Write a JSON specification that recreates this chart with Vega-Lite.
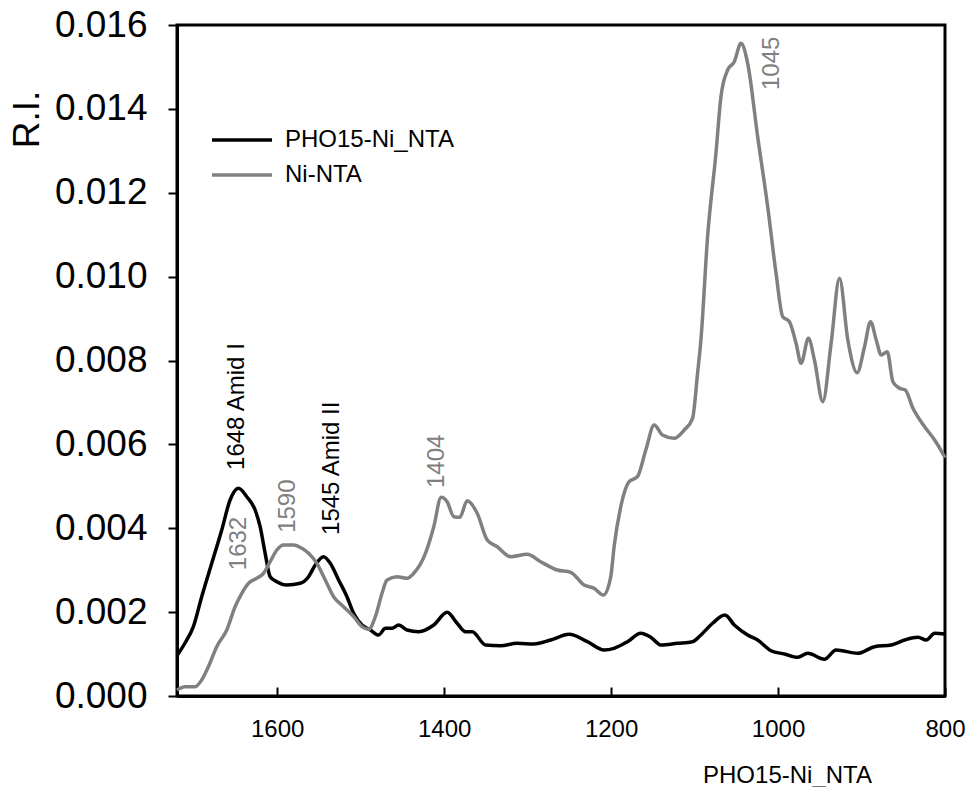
{
  "$schema": "https://vega.github.io/schema/vega-lite/v6.json",
  "width": 768,
  "height": 671,
  "autosize": {"type": "none"},
  "padding": {"left": 177, "top": 25, "right": 25, "bottom": 91},
  "background": "white",
  "config": {
    "view": {"stroke": "#000000", "strokeWidth": 3},
    "font": "Liberation Sans",
    "axis": {
      "grid": false,
      "domainColor": "#000000",
      "domainWidth": 3,
      "tickColor": "#000000",
      "tickWidth": 2,
      "labelColor": "#000000",
      "titleColor": "#000000",
      "labelFont": "Liberation Sans",
      "titleFont": "Liberation Sans",
      "titleFontWeight": "normal"
    }
  },
  "datasets": {
    "spectra": [
      {"series": "PHO15-Ni_NTA", "wn": 1720, "ri": 0.00096},
      {"series": "PHO15-Ni_NTA", "wn": 1710.4, "ri": 0.001264},
      {"series": "PHO15-Ni_NTA", "wn": 1700.4, "ri": 0.001653},
      {"series": "PHO15-Ni_NTA", "wn": 1690.4, "ri": 0.002368},
      {"series": "PHO15-Ni_NTA", "wn": 1678.4, "ri": 0.003164},
      {"series": "PHO15-Ni_NTA", "wn": 1666.4, "ri": 0.003958},
      {"series": "PHO15-Ni_NTA", "wn": 1656.4, "ri": 0.004674},
      {"series": "PHO15-Ni_NTA", "wn": 1646.4, "ri": 0.004953},
      {"series": "PHO15-Ni_NTA", "wn": 1636.4, "ri": 0.004752},
      {"series": "PHO15-Ni_NTA", "wn": 1626.4, "ri": 0.004435},
      {"series": "PHO15-Ni_NTA", "wn": 1620.4, "ri": 0.004037},
      {"series": "PHO15-Ni_NTA", "wn": 1614.4, "ri": 0.003403},
      {"series": "PHO15-Ni_NTA", "wn": 1608.4, "ri": 0.002845},
      {"series": "PHO15-Ni_NTA", "wn": 1600.4, "ri": 0.002725},
      {"series": "PHO15-Ni_NTA", "wn": 1588.4, "ri": 0.002647},
      {"series": "PHO15-Ni_NTA", "wn": 1572.4, "ri": 0.002687},
      {"series": "PHO15-Ni_NTA", "wn": 1562.4, "ri": 0.002845},
      {"series": "PHO15-Ni_NTA", "wn": 1554.4, "ri": 0.003124},
      {"series": "PHO15-Ni_NTA", "wn": 1544.4, "ri": 0.003322},
      {"series": "PHO15-Ni_NTA", "wn": 1536.4, "ri": 0.003164},
      {"series": "PHO15-Ni_NTA", "wn": 1526.4, "ri": 0.002766},
      {"series": "PHO15-Ni_NTA", "wn": 1516.4, "ri": 0.002368},
      {"series": "PHO15-Ni_NTA", "wn": 1508.4, "ri": 0.001972},
      {"series": "PHO15-Ni_NTA", "wn": 1498.4, "ri": 0.001693},
      {"series": "PHO15-Ni_NTA", "wn": 1488.4, "ri": 0.001574},
      {"series": "PHO15-Ni_NTA", "wn": 1478.4, "ri": 0.001455},
      {"series": "PHO15-Ni_NTA", "wn": 1470.4, "ri": 0.001614},
      {"series": "PHO15-Ni_NTA", "wn": 1462.4, "ri": 0.001614},
      {"series": "PHO15-Ni_NTA", "wn": 1454.4, "ri": 0.001693},
      {"series": "PHO15-Ni_NTA", "wn": 1444.4, "ri": 0.001574},
      {"series": "PHO15-Ni_NTA", "wn": 1430.4, "ri": 0.001533},
      {"series": "PHO15-Ni_NTA", "wn": 1412.4, "ri": 0.001693},
      {"series": "PHO15-Ni_NTA", "wn": 1396.4, "ri": 0.001996},
      {"series": "PHO15-Ni_NTA", "wn": 1384.4, "ri": 0.001734},
      {"series": "PHO15-Ni_NTA", "wn": 1374.4, "ri": 0.001533},
      {"series": "PHO15-Ni_NTA", "wn": 1366.4, "ri": 0.001533},
      {"series": "PHO15-Ni_NTA", "wn": 1350.4, "ri": 0.001216},
      {"series": "PHO15-Ni_NTA", "wn": 1332.4, "ri": 0.001199},
      {"series": "PHO15-Ni_NTA", "wn": 1312.4, "ri": 0.001257},
      {"series": "PHO15-Ni_NTA", "wn": 1292.4, "ri": 0.00124},
      {"series": "PHO15-Ni_NTA", "wn": 1272.4, "ri": 0.001335},
      {"series": "PHO15-Ni_NTA", "wn": 1250.4, "ri": 0.001471},
      {"series": "PHO15-Ni_NTA", "wn": 1228.4, "ri": 0.001295},
      {"series": "PHO15-Ni_NTA", "wn": 1208.4, "ri": 0.001097},
      {"series": "PHO15-Ni_NTA", "wn": 1196.4, "ri": 0.001137},
      {"series": "PHO15-Ni_NTA", "wn": 1180.4, "ri": 0.001295},
      {"series": "PHO15-Ni_NTA", "wn": 1164.4, "ri": 0.001495},
      {"series": "PHO15-Ni_NTA", "wn": 1152.4, "ri": 0.0014},
      {"series": "PHO15-Ni_NTA", "wn": 1140.4, "ri": 0.001216},
      {"series": "PHO15-Ni_NTA", "wn": 1120.4, "ri": 0.001257},
      {"series": "PHO15-Ni_NTA", "wn": 1102.4, "ri": 0.001295},
      {"series": "PHO15-Ni_NTA", "wn": 1092.4, "ri": 0.001455},
      {"series": "PHO15-Ni_NTA", "wn": 1078.4, "ri": 0.001734},
      {"series": "PHO15-Ni_NTA", "wn": 1063.6, "ri": 0.001931},
      {"series": "PHO15-Ni_NTA", "wn": 1052.4, "ri": 0.001693},
      {"series": "PHO15-Ni_NTA", "wn": 1036.4, "ri": 0.001455},
      {"series": "PHO15-Ni_NTA", "wn": 1024.4, "ri": 0.001335},
      {"series": "PHO15-Ni_NTA", "wn": 1008.4, "ri": 0.00108},
      {"series": "PHO15-Ni_NTA", "wn": 992.4, "ri": 0.001002},
      {"series": "PHO15-Ni_NTA", "wn": 976.4, "ri": 0.000923},
      {"series": "PHO15-Ni_NTA", "wn": 964.4, "ri": 0.001018},
      {"series": "PHO15-Ni_NTA", "wn": 944.4, "ri": 0.000875},
      {"series": "PHO15-Ni_NTA", "wn": 930.4, "ri": 0.001097},
      {"series": "PHO15-Ni_NTA", "wn": 904.4, "ri": 0.001018},
      {"series": "PHO15-Ni_NTA", "wn": 884.4, "ri": 0.001176},
      {"series": "PHO15-Ni_NTA", "wn": 864.4, "ri": 0.001216},
      {"series": "PHO15-Ni_NTA", "wn": 848.4, "ri": 0.001335},
      {"series": "PHO15-Ni_NTA", "wn": 832.4, "ri": 0.0014},
      {"series": "PHO15-Ni_NTA", "wn": 822.4, "ri": 0.001335},
      {"series": "PHO15-Ni_NTA", "wn": 812.4, "ri": 0.001495},
      {"series": "PHO15-Ni_NTA", "wn": 800, "ri": 0.001478},
      {"series": "Ni-NTA", "wn": 1720, "ri": 0.00014},
      {"series": "Ni-NTA", "wn": 1710.4, "ri": 0.000222},
      {"series": "Ni-NTA", "wn": 1698.4, "ri": 0.000222},
      {"series": "Ni-NTA", "wn": 1690.4, "ri": 0.000382},
      {"series": "Ni-NTA", "wn": 1682.4, "ri": 0.000699},
      {"series": "Ni-NTA", "wn": 1672.4, "ri": 0.001176},
      {"series": "Ni-NTA", "wn": 1660.4, "ri": 0.001574},
      {"series": "Ni-NTA", "wn": 1650.4, "ri": 0.002129},
      {"series": "Ni-NTA", "wn": 1642.4, "ri": 0.002449},
      {"series": "Ni-NTA", "wn": 1634.4, "ri": 0.002687},
      {"series": "Ni-NTA", "wn": 1624.4, "ri": 0.002807},
      {"series": "Ni-NTA", "wn": 1616.4, "ri": 0.002926},
      {"series": "Ni-NTA", "wn": 1608.4, "ri": 0.003202},
      {"series": "Ni-NTA", "wn": 1600.4, "ri": 0.003481},
      {"series": "Ni-NTA", "wn": 1592.4, "ri": 0.003601},
      {"series": "Ni-NTA", "wn": 1580.4, "ri": 0.003601},
      {"series": "Ni-NTA", "wn": 1570.4, "ri": 0.003522},
      {"series": "Ni-NTA", "wn": 1562.4, "ri": 0.003403},
      {"series": "Ni-NTA", "wn": 1552.4, "ri": 0.003164},
      {"series": "Ni-NTA", "wn": 1542.4, "ri": 0.002766},
      {"series": "Ni-NTA", "wn": 1532.4, "ri": 0.002368},
      {"series": "Ni-NTA", "wn": 1520.4, "ri": 0.002129},
      {"series": "Ni-NTA", "wn": 1508.4, "ri": 0.001891},
      {"series": "Ni-NTA", "wn": 1498.4, "ri": 0.001653},
      {"series": "Ni-NTA", "wn": 1490.4, "ri": 0.00159},
      {"series": "Ni-NTA", "wn": 1482.4, "ri": 0.001891},
      {"series": "Ni-NTA", "wn": 1474.4, "ri": 0.002449},
      {"series": "Ni-NTA", "wn": 1468.4, "ri": 0.002766},
      {"series": "Ni-NTA", "wn": 1456.4, "ri": 0.002845},
      {"series": "Ni-NTA", "wn": 1444.4, "ri": 0.002807},
      {"series": "Ni-NTA", "wn": 1436.4, "ri": 0.002926},
      {"series": "Ni-NTA", "wn": 1422.4, "ri": 0.003403},
      {"series": "Ni-NTA", "wn": 1412.4, "ri": 0.004037},
      {"series": "Ni-NTA", "wn": 1403.6, "ri": 0.004738},
      {"series": "Ni-NTA", "wn": 1396.4, "ri": 0.004633},
      {"series": "Ni-NTA", "wn": 1388.4, "ri": 0.004275},
      {"series": "Ni-NTA", "wn": 1381.2, "ri": 0.004261},
      {"series": "Ni-NTA", "wn": 1372.4, "ri": 0.004657},
      {"series": "Ni-NTA", "wn": 1360.4, "ri": 0.004357},
      {"series": "Ni-NTA", "wn": 1348.4, "ri": 0.00372},
      {"series": "Ni-NTA", "wn": 1336.4, "ri": 0.00356},
      {"series": "Ni-NTA", "wn": 1320.4, "ri": 0.003322},
      {"series": "Ni-NTA", "wn": 1300.4, "ri": 0.003379},
      {"series": "Ni-NTA", "wn": 1284.4, "ri": 0.003202},
      {"series": "Ni-NTA", "wn": 1264.4, "ri": 0.003004},
      {"series": "Ni-NTA", "wn": 1248.4, "ri": 0.00295},
      {"series": "Ni-NTA", "wn": 1232.4, "ri": 0.002647},
      {"series": "Ni-NTA", "wn": 1220.4, "ri": 0.002568},
      {"series": "Ni-NTA", "wn": 1209.2, "ri": 0.002408},
      {"series": "Ni-NTA", "wn": 1200.4, "ri": 0.002845},
      {"series": "Ni-NTA", "wn": 1196.4, "ri": 0.00356},
      {"series": "Ni-NTA", "wn": 1188.4, "ri": 0.004514},
      {"series": "Ni-NTA", "wn": 1178.4, "ri": 0.00511},
      {"series": "Ni-NTA", "wn": 1168.4, "ri": 0.005229},
      {"series": "Ni-NTA", "wn": 1158.4, "ri": 0.005866},
      {"series": "Ni-NTA", "wn": 1148.4, "ri": 0.006462},
      {"series": "Ni-NTA", "wn": 1138.4, "ri": 0.006224},
      {"series": "Ni-NTA", "wn": 1124.4, "ri": 0.006145},
      {"series": "Ni-NTA", "wn": 1112.4, "ri": 0.006343},
      {"series": "Ni-NTA", "wn": 1102.4, "ri": 0.006622},
      {"series": "Ni-NTA", "wn": 1096.4, "ri": 0.007695},
      {"series": "Ni-NTA", "wn": 1092.4, "ri": 0.008489},
      {"series": "Ni-NTA", "wn": 1084.4, "ri": 0.010952},
      {"series": "Ni-NTA", "wn": 1074.4, "ri": 0.012941},
      {"series": "Ni-NTA", "wn": 1068.4, "ri": 0.01429},
      {"series": "Ni-NTA", "wn": 1060.4, "ri": 0.014927},
      {"series": "Ni-NTA", "wn": 1052.4, "ri": 0.015125},
      {"series": "Ni-NTA", "wn": 1044.4, "ri": 0.015564},
      {"series": "Ni-NTA", "wn": 1036.4, "ri": 0.015087},
      {"series": "Ni-NTA", "wn": 1024.4, "ri": 0.013337},
      {"series": "Ni-NTA", "wn": 1012.4, "ri": 0.011668},
      {"series": "Ni-NTA", "wn": 1002.4, "ri": 0.010079},
      {"series": "Ni-NTA", "wn": 994.4, "ri": 0.009045},
      {"series": "Ni-NTA", "wn": 986.4, "ri": 0.008925},
      {"series": "Ni-NTA", "wn": 978.4, "ri": 0.00841},
      {"series": "Ni-NTA", "wn": 972.4, "ri": 0.007933},
      {"series": "Ni-NTA", "wn": 963.6, "ri": 0.00853},
      {"series": "Ni-NTA", "wn": 956.4, "ri": 0.008012},
      {"series": "Ni-NTA", "wn": 946.4, "ri": 0.007018},
      {"series": "Ni-NTA", "wn": 936.4, "ri": 0.00841},
      {"series": "Ni-NTA", "wn": 926.4, "ri": 0.00996},
      {"series": "Ni-NTA", "wn": 916.4, "ri": 0.008489},
      {"series": "Ni-NTA", "wn": 905.2, "ri": 0.007709},
      {"series": "Ni-NTA", "wn": 896.4, "ri": 0.008329},
      {"series": "Ni-NTA", "wn": 889.2, "ri": 0.008925},
      {"series": "Ni-NTA", "wn": 882.4, "ri": 0.008489},
      {"series": "Ni-NTA", "wn": 876.4, "ri": 0.008131},
      {"series": "Ni-NTA", "wn": 869.2, "ri": 0.00821},
      {"series": "Ni-NTA", "wn": 862.4, "ri": 0.007495},
      {"series": "Ni-NTA", "wn": 854.4, "ri": 0.007337},
      {"series": "Ni-NTA", "wn": 847.6, "ri": 0.007297},
      {"series": "Ni-NTA", "wn": 838.4, "ri": 0.00686},
      {"series": "Ni-NTA", "wn": 824.4, "ri": 0.006422},
      {"series": "Ni-NTA", "wn": 812.4, "ri": 0.006104},
      {"series": "Ni-NTA", "wn": 802.4, "ri": 0.005771},
      {"series": "Ni-NTA", "wn": 800, "ri": 0.00568}
    ],
    "labels": [
      {"series": "PHO15-Ni_NTA", "label": "1648 Amid I", "wn": 1648, "ri": 0.00539},
      {"series": "PHO15-Ni_NTA", "label": "1545 Amid II", "wn": 1534, "ri": 0.00384},
      {"series": "Ni-NTA", "label": "1632", "wn": 1646, "ri": 0.003},
      {"series": "Ni-NTA", "label": "1590", "wn": 1587, "ri": 0.00389},
      {"series": "Ni-NTA", "label": "1404", "wn": 1409, "ri": 0.00496},
      {"series": "Ni-NTA", "label": "1045", "wn": 1007, "ri": 0.01445}
    ]
  },
  "layer": [
    {
      "data": {"name": "spectra"},
      "mark": {"type": "line", "strokeWidth": 3.5, "interpolate": "monotone"},
      "encoding": {
        "x": {
          "field": "wn",
          "type": "quantitative",
          "scale": {"domain": [800, 1720], "reverse": true, "nice": false, "zero": false},
          "axis": {
            "values": [1600, 1400, 1200, 1000, 800],
            "format": "d",
            "title": "PHO15-Ni_NTA",
            "tickSize": -9,
            "labelFontSize": 24,
            "labelPadding": 30,
            "labelFlush": false,
            "titleFontSize": 24,
            "titleX": 610,
            "titleY": 86,
            "titleBaseline": "alphabetic",
            "titleAlign": "center"
          }
        },
        "y": {
          "field": "ri",
          "type": "quantitative",
          "scale": {"domain": [0, 0.016], "nice": false},
          "axis": {
            "values": [0, 0.002, 0.004, 0.006, 0.008, 0.01, 0.012, 0.014, 0.016],
            "format": ".3f",
            "tickSize": 9,
            "labelFontSize": 37,
            "labelPadding": 21,
            "title": "R.I.",
            "titleFontSize": 37,
            "titleAngle": -90,
            "titleX": -139,
            "titleY": 94,
            "titleAlign": "center",
            "titleBaseline": "alphabetic"
          }
        },
        "color": {
          "field": "series",
          "type": "nominal",
          "scale": {"domain": ["PHO15-Ni_NTA", "Ni-NTA"], "range": ["#000000", "#808080"]},
          "legend": {
            "orient": "none",
            "legendX": 33,
            "legendY": 103,
            "title": null,
            "symbolType": "stroke",
            "symbolSize": 3600,
            "symbolStrokeWidth": 3.5,
            "labelFontSize": 24,
            "labelFont": "Liberation Sans",
            "labelColor": "#000000",
            "labelLimit": 0,
            "labelOffset": 11,
            "clipHeight": 24,
            "rowPadding": 11,
            "padding": 0
          }
        }
      }
    },
    {
      "data": {"name": "labels"},
      "transform": [{"filter": "datum.series === 'PHO15-Ni_NTA'"}],
      "mark": {"type": "text", "angle": 270, "align": "left", "baseline": "middle", "fontSize": 24, "color": "#000000", "font": "Liberation Sans"},
      "encoding": {
        "x": {"field": "wn", "type": "quantitative"},
        "y": {"field": "ri", "type": "quantitative"},
        "text": {"field": "label"}
      }
    },
    {
      "data": {"name": "labels"},
      "transform": [{"filter": "datum.series === 'Ni-NTA'"}],
      "mark": {"type": "text", "angle": 270, "align": "left", "baseline": "middle", "fontSize": 24, "color": "#808080", "font": "Liberation Sans"},
      "encoding": {
        "x": {"field": "wn", "type": "quantitative"},
        "y": {"field": "ri", "type": "quantitative"},
        "text": {"field": "label"}
      }
    }
  ]
}
